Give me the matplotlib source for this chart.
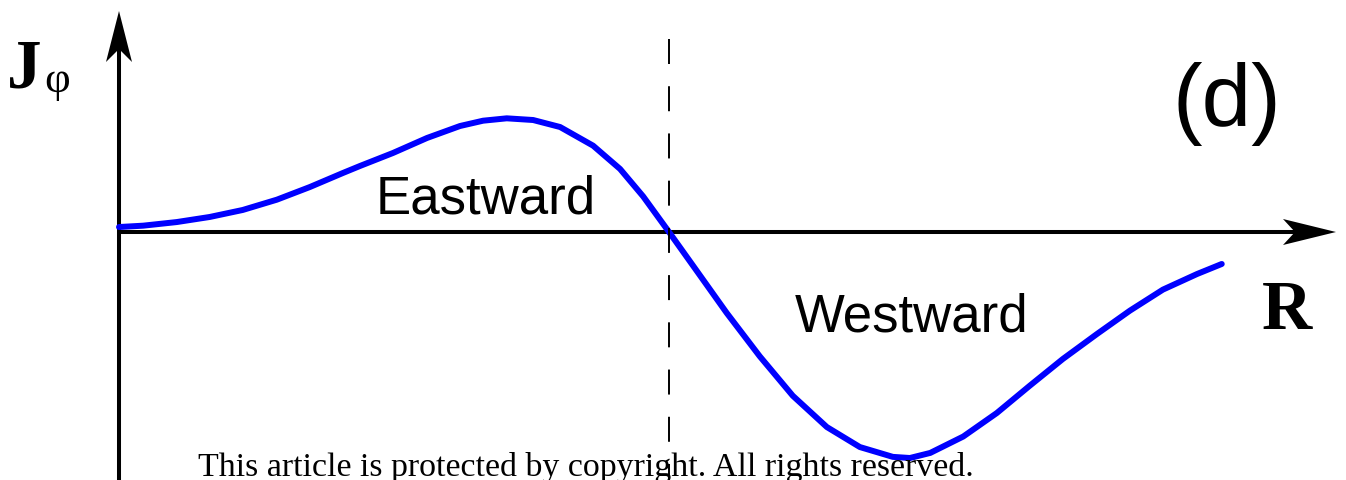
import matplotlib
matplotlib.use('Agg')
import matplotlib.pyplot as plt
from matplotlib.patches import Polygon

plt.rcParams['lines.scale_dashes'] = False

# Current density profile J_phi(R), normalised so that the reversal point is R = 1
# and the eastward maximum is J = 1
R = [0.000, 0.044, 0.105, 0.165, 0.225, 0.287, 0.347, 0.407, 0.438, 0.498,
     0.560, 0.620, 0.662, 0.705, 0.753, 0.802, 0.862, 0.911, 0.953, 1.000,
     1.044, 1.105, 1.165, 1.225, 1.287, 1.347, 1.407, 1.438, 1.475, 1.535,
     1.596, 1.656, 1.716, 1.778, 1.838, 1.898, 1.960, 2.005]
J = [0.044, 0.056, 0.088, 0.133, 0.195, 0.286, 0.398, 0.522, 0.584, 0.699,
     0.832, 0.938, 0.985, 1.006, 0.991, 0.929, 0.764, 0.558, 0.315, 0.000,
     -0.300, -0.717, -1.100, -1.449, -1.726, -1.903, -1.990, -2.000, -1.955, -1.810,
     -1.602, -1.360, -1.124, -0.903, -0.696, -0.510, -0.372, -0.283]
R_reversal = 1.0

region_labels = ['Eastward', 'Westward']
panel_label = '(d)'
footer = 'This article is protected by copyright. All rights reserved.'

# layout: pixel position of the origin and pixels per unit
W, H = 1346, 481
X0, Y0 = 119, 233
SX, SY = 550.0, 113.0


def px(x, y):
    return (x - X0) / SX, (Y0 - y) / SY


fig = plt.figure(figsize=(W / 100, H / 100), dpi=100)
ax = fig.add_axes([0, 0, 1, 1])
ax.set_xlim(-X0 / SX, (W - X0) / SX)
ax.set_ylim(-(H - Y0) / SY, Y0 / SY)
ax.axis('off')

# coordinate axes with notched arrow heads
ax.plot(*zip(px(X0, H + 5), px(X0, 50)), color='black', lw=2.9, solid_capstyle='butt')
ax.plot(*zip(px(X0, Y0), px(1295, Y0)), color='black', lw=2.9, solid_capstyle='butt')
ax.add_patch(Polygon([px(119, 12), px(106, 63), px(119, 50), px(132, 63)],
                     closed=True, color='black', lw=0))
ax.add_patch(Polygon([px(1336, 233), px(1283, 220), px(1295, 233), px(1283, 246)],
                     closed=True, color='black', lw=0))

# reversal line
ax.plot([R_reversal, R_reversal], [px(0, 40)[1], px(0, H)[1]], color='black',
        lw=1.4, dashes=(18, 16), zorder=5)

# profile
ax.plot(R, J, color='#0000ff', lw=4.3, solid_capstyle='round',
        solid_joinstyle='round', zorder=3)

# labels
ax.text(*px(7, 88), 'J', family='Liberation Serif', fontweight='bold',
        fontsize=50, ha='left', va='baseline')
ax.text(*px(44, 92), '\u03c6', family='Liberation Serif', fontsize=32,
        ha='left', va='baseline')
ax.text(*px(1262, 329), 'R', family='Liberation Serif', fontweight='bold',
        fontsize=50, ha='left', va='baseline')
ax.text(*px(1227, 127), panel_label, family='Liberation Sans', fontsize=64,
        ha='center', va='baseline')
ax.text(*px(486, 214), region_labels[0], family='Liberation Sans', fontsize=38,
        ha='center', va='baseline')
ax.text(*px(912, 331), region_labels[1], family='Liberation Sans', fontsize=38,
        ha='center', va='baseline')
ax.text(*px(198, 476), footer, family='Liberation Serif', fontsize=24.4,
        ha='left', va='baseline', zorder=4)

fig.savefig('out.png', dpi=100)
